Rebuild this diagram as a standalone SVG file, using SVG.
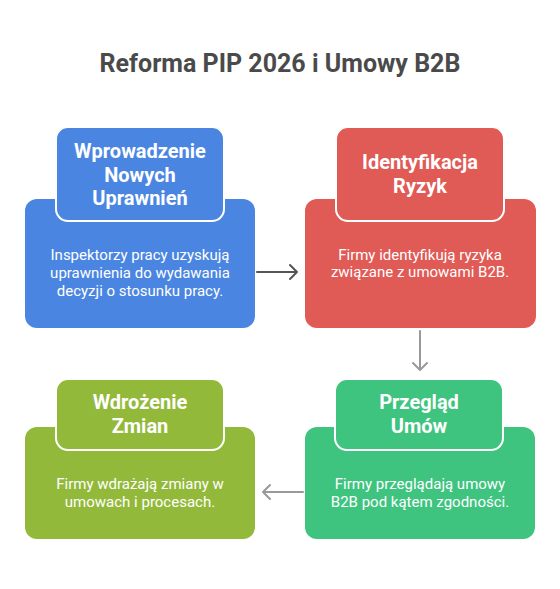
<svg xmlns="http://www.w3.org/2000/svg" width="560" height="589" viewBox="0 0 560 589">
<defs>
<style>
.title{font-family:Roboto,"Liberation Sans",sans-serif;font-weight:bold;font-size:25px;fill:#4a4a4a;text-anchor:middle}
.head{font-family:Roboto,"Liberation Sans",sans-serif;font-weight:bold;font-size:20px;fill:#ffffff;text-anchor:middle}
.body{font-family:Roboto,"Liberation Sans",sans-serif;font-size:15px;fill:#ffffff;text-anchor:middle}
.tab{stroke:#ffffff;stroke-width:2}
.conn{fill:none;stroke-width:2;stroke-linecap:round;stroke-linejoin:round}
</style>
</defs>
<rect width="560" height="589" fill="#ffffff"/>
<text class="title" x="280" y="72">Reforma PIP 2026 i Umowy B2B</text>
<g id="node-wprowadzenie">
<rect x="25" y="199" width="230" height="129" rx="12" fill="#4a86e1"/>
<rect class="tab" x="56" y="127" width="168" height="94" rx="12" fill="#4a86e1"/>
<text class="head" x="140" y="158">Wprowadzenie</text>
<text class="head" x="140" y="181.5">Nowych</text>
<text class="head" x="140" y="205">Uprawnień</text>
<text class="body" x="140" y="260">Inspektorzy pracy uzyskują</text>
<text class="body" x="140" y="278">uprawnienia do wydawania</text>
<text class="body" x="140" y="296">decyzji o stosunku pracy.</text>
</g>
<g id="node-identyfikacja">
<rect x="305" y="199" width="231" height="129" rx="12" fill="#e05a56"/>
<rect class="tab" x="336" y="127" width="168" height="94" rx="12" fill="#e05a56"/>
<text class="head" x="420" y="169">Identyfikacja</text>
<text class="head" x="420" y="193">Ryzyk</text>
<text class="body" x="420" y="260">Firmy identyfikują ryzyka</text>
<text class="body" x="420" y="277">związane z umowami B2B.</text>
</g>
<g id="node-przeglad">
<rect x="305" y="427" width="230" height="112" rx="12" fill="#3ec47f"/>
<rect class="tab" x="335" y="379" width="168" height="71" rx="12" fill="#3ec47f"/>
<text class="head" x="419" y="409">Przegląd</text>
<text class="head" x="419" y="433">Umów</text>
<text class="body" x="420" y="489">Firmy przeglądają umowy</text>
<text class="body" x="420" y="507">B2B pod kątem zgodności.</text>
</g>
<g id="node-wdrozenie">
<rect x="25" y="427" width="230" height="112" rx="12" fill="#93b93b"/>
<rect class="tab" x="56" y="379" width="168" height="71" rx="12" fill="#93b93b"/>
<text class="head" x="140" y="409">Wdrożenie</text>
<text class="head" x="140" y="433">Zmian</text>
<text class="body" x="140" y="489">Firmy wdrażają zmiany w</text>
<text class="body" x="140" y="507">umowach i procesach.</text>
</g>
<g id="connectors">
<path class="conn" stroke="#555555" d="M257 272 H297 M290 265 L297 272 L290 279"/>
<path class="conn" stroke="#999999" d="M420 331 V370 M413 363 L420 370 L427 363"/>
<path class="conn" stroke="#999999" d="M303 492 H263 M270 485 L263 492 L270 499"/>
</g>
</svg>
